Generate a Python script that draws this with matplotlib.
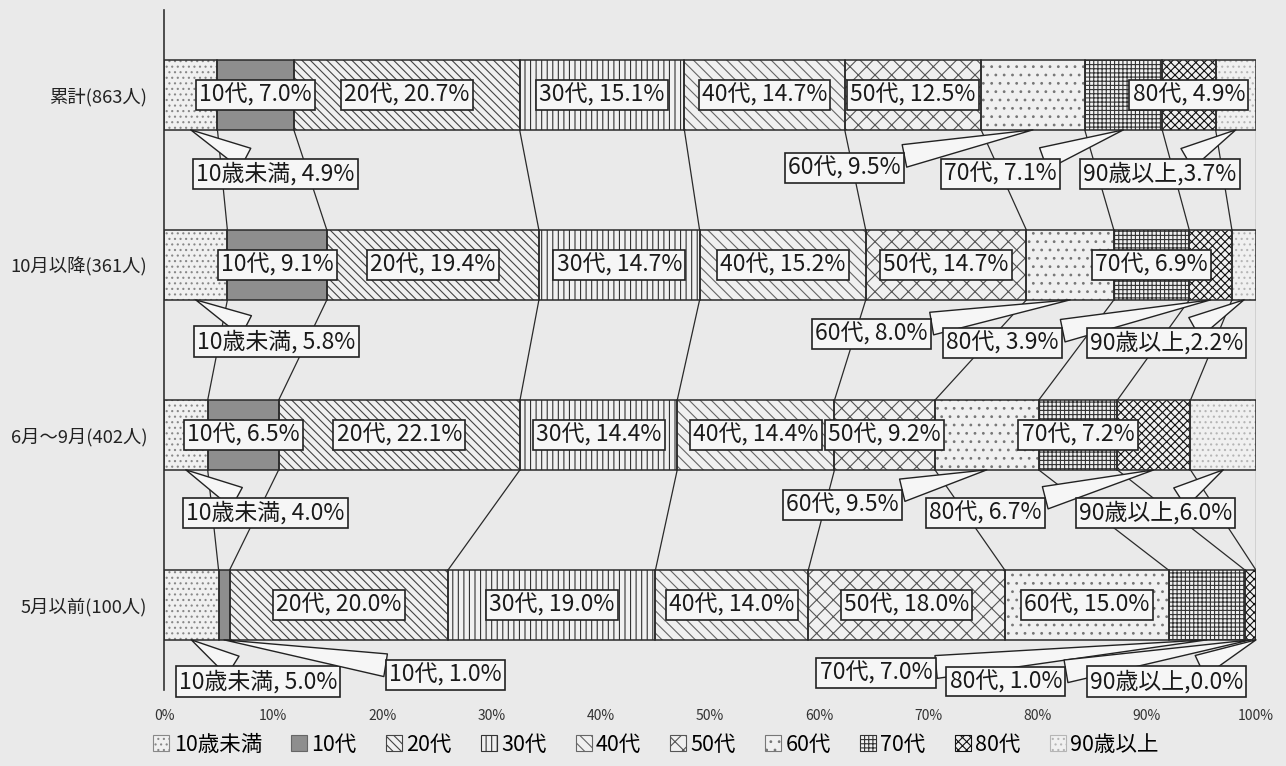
import numpy as np
import matplotlib.pyplot as plt
from matplotlib.patches import Patch

plt.rcParams['font.family'] = ['Noto Sans CJK JP', 'DejaVu Sans']
plt.rcParams['hatch.linewidth'] = 0.8

ages = ['10歳未満', '10代', '20代', '30代', '40代', '50代', '60代', '70代', '80代', '90歳以上']
rows = ['5月以前(100人)', '6月～9月(402人)', '10月以降(361人)', '累計(863人)']
may_before = [5.0, 1.0, 20.0, 19.0, 14.0, 18.0, 15.0, 7.0, 1.0, 0.0]
jun_sep = [4.0, 6.5, 22.1, 14.4, 14.4, 9.2, 9.5, 7.2, 6.7, 6.0]
oct_after = [5.8, 9.1, 19.4, 14.7, 15.2, 14.7, 8.0, 6.9, 3.9, 2.2]
total = [4.9, 7.0, 20.7, 15.1, 14.7, 12.5, 9.5, 7.1, 4.9, 3.7]
values = np.array([may_before, jun_sep, oct_after, total])

# callout boxes below the bars: row -> {age index: (x%, drop below bar centre)}
callouts = {
    3: {0: (10.2, .465), 6: (62.3, .43), 7: (76.6, .465), 9: (91.2, .465)},
    2: {0: (10.3, .45), 6: (64.8, .405), 8: (76.8, .46), 9: (91.8, .46)},
    1: {0: (9.3, .46), 6: (62.1, .41), 8: (75.2, .46), 9: (90.8, .46)},
    0: {0: (8.6, .45), 1: (25.8, .41), 7: (65.2, .40), 8: (77.1, .45), 9: (91.8, .45)},
}

hatches = ['...', '', '\\\\\\\\', '|||', '\\\\\\', 'xx', '..', '++++', 'xxxx', '...']
faces = ['#f0f0f0', '#8e8e8e', '#f0f0f0', '#f0f0f0', '#f0f0f0', '#f0f0f0',
         '#f0f0f0', '#f0f0f0', '#f0f0f0', '#f0f0f0']
hcols = ['#888888', '#666666', '#444444', '#333333', '#666666', '#555555',
         '#777777', '#333333', '#111111', '#b5b5b5']
bg = '#eaeaea'
box_fc = '#f6f6f6'
h = 0.41

fig = plt.figure(figsize=(12.86, 7.66), dpi=100, facecolor=bg)
ax = fig.add_axes([164/1286, 76/766, 1092/1286, 680/766])
ax.set_facecolor(bg)

norm = values / values.sum(axis=1, keepdims=True) * 100
lefts = np.cumsum(norm, axis=1) - norm
rights = np.cumsum(norm, axis=1)
ypos = np.arange(len(rows))

for k in range(len(ages)):
    ax.barh(ypos, norm[:, k], left=lefts[:, k], height=h, color=faces[k],
            hatch=hatches[k], edgecolor=hcols[k], linewidth=0, zorder=2)
    ax.barh(ypos, norm[:, k], left=lefts[:, k], height=h, fill=False,
            edgecolor='#2a2a2a', linewidth=1.1, zorder=3)

# series lines between bars
for i in range(len(rows) - 1):
    for k in range(len(ages)):
        ax.plot([rights[i + 1, k], rights[i, k]], [i + 1 - h / 2, i + h / 2],
                color='#2a2a2a', lw=0.9, zorder=1)

bbox = dict(boxstyle='square,pad=0.14', fc=box_fc, ec='#222222', lw=1.2)
for i in range(len(rows)):
    for k in range(len(ages)):
        v = values[i, k]
        sep = ',' if k == 9 else ', '
        lab = f'{ages[k]}{sep}{v:.1f}%'
        cx = lefts[i, k] + norm[i, k] / 2
        if k in callouts[i]:
            bx, dy = callouts[i][k]
            ax.annotate(lab, xy=(cx, i - h / 2), xytext=(bx, i - dy),
                        ha='center', va='center', fontsize=16.5, color='#1a1a1a',
                        bbox=bbox, zorder=6,
                        arrowprops=dict(arrowstyle='wedge,tail_width=1.0,shrink_factor=0.5',
                                        fc=box_fc, ec='#222222', lw=1.0,
                                        shrinkA=0, shrinkB=0))
        else:
            ax.text(cx, i, lab, ha='center', va='center', fontsize=16.5,
                    color='#1a1a1a', bbox=bbox, zorder=6)

ax.set_xlim(0, 100)
ax.set_ylim(-0.5, 3.5)
ax.set_xticks(np.arange(0, 101, 10))
ax.set_xticklabels([f'{t}%' for t in range(0, 101, 10)], fontsize=10, color='#333333')
ax.set_yticks(ypos)
ax.set_yticklabels(rows, fontsize=13.2, color='#222222')
ax.tick_params(axis='y', length=0, pad=12)
ax.tick_params(axis='x', length=0, pad=14)
for s in ['top', 'right', 'bottom']:
    ax.spines[s].set_visible(False)
ax.spines['left'].set_color('#333333')
ax.spines['left'].set_linewidth(1.2)

handles = [Patch(facecolor=faces[k], hatch=hatches[k], edgecolor=hcols[k], linewidth=0.8)
           for k in range(len(ages))]
fig.legend(handles, ages, loc='lower center', bbox_to_anchor=(0.51, -0.012), ncol=10,
           frameon=False, fontsize=15.5, handlelength=0.75, handleheight=0.75,
           handletextpad=0.2, columnspacing=1.35)

fig.savefig('out.png', dpi=100, facecolor=bg)
